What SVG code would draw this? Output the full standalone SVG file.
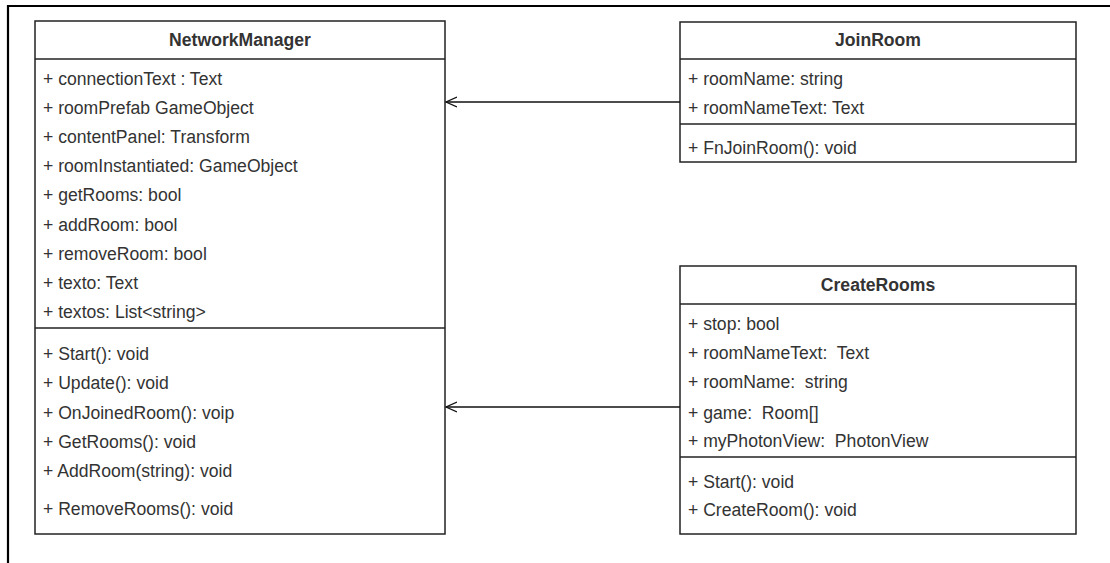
<svg xmlns="http://www.w3.org/2000/svg" width="1110" height="563" viewBox="0 0 1110 563">
<style>
.box{fill:#fff;stroke:#222;stroke-width:1.5}
.sep{stroke:#222;stroke-width:1.5}
.t{font-family:"Liberation Sans",Arial,sans-serif;font-size:17.6px;fill:#333;white-space:pre}
.h{font-family:"Liberation Sans",Arial,sans-serif;font-size:17.6px;font-weight:bold;fill:#333;text-anchor:middle}
.edge{stroke:#111;stroke-width:1.3;fill:none}
</style>
<defs>
<marker id="open" markerWidth="14" markerHeight="12" refX="11" refY="6" orient="auto" markerUnits="userSpaceOnUse">
<path d="M0,1 L11,6 L0,11" fill="none" stroke="#111" stroke-width="1.3"/>
</marker>
</defs>
<rect x="0" y="0" width="1110" height="563" fill="#fff"/>
<path d="M8,563 V6 H1110" fill="none" stroke="#000" stroke-width="2.2"/>
<g id="NetworkManager">
<rect class="box" x="35" y="21" width="410" height="513"/>
<line class="sep" x1="35" y1="59" x2="445" y2="59"/>
<line class="sep" x1="35" y1="328" x2="445" y2="328"/>
<text class="h" x="240" y="46">NetworkManager</text>
<text class="t" x="43" y="85">+ connectionText : Text</text>
<text class="t" x="43" y="114">+ roomPrefab GameObject</text>
<text class="t" x="43" y="143">+ contentPanel: Transform</text>
<text class="t" x="43" y="172">+ roomInstantiated: GameObject</text>
<text class="t" x="43" y="201">+ getRooms: bool</text>
<text class="t" x="43" y="231">+ addRoom: bool</text>
<text class="t" x="43" y="260">+ removeRoom: bool</text>
<text class="t" x="43" y="289">+ texto: Text</text>
<text class="t" x="43" y="318">+ textos: List&lt;string&gt;</text>
<text class="t" x="43" y="360">+ Start(): void</text>
<text class="t" x="43" y="389">+ Update(): void</text>
<text class="t" x="43" y="419">+ OnJoinedRoom(): voip</text>
<text class="t" x="43" y="448">+ GetRooms(): void</text>
<text class="t" x="43" y="477">+ AddRoom(string): void</text>
<text class="t" x="43" y="515">+ RemoveRooms(): void</text>
</g>
<g id="JoinRoom">
<rect class="box" x="680" y="22" width="396" height="140"/>
<line class="sep" x1="680" y1="59" x2="1076" y2="59"/>
<line class="sep" x1="680" y1="124" x2="1076" y2="124"/>
<text class="h" x="878" y="46">JoinRoom</text>
<text class="t" x="688" y="85">+ roomName: string</text>
<text class="t" x="688" y="114">+ roomNameText: Text</text>
<text class="t" x="688" y="154">+ FnJoinRoom(): void</text>
</g>
<g id="CreateRooms">
<rect class="box" x="680" y="266" width="396" height="268"/>
<line class="sep" x1="680" y1="304" x2="1076" y2="304"/>
<line class="sep" x1="680" y1="457" x2="1076" y2="457"/>
<text class="h" x="878" y="291">CreateRooms</text>
<text class="t" x="688" y="330">+ stop: bool</text>
<text class="t" x="688" y="359" xml:space="preserve">+ roomNameText:  Text</text>
<text class="t" x="688" y="388" xml:space="preserve">+ roomName:  string</text>
<text class="t" x="688" y="419" xml:space="preserve">+ game:  Room[]</text>
<text class="t" x="688" y="447" xml:space="preserve">+ myPhotonView:  PhotonView</text>
<text class="t" x="688" y="488">+ Start(): void</text>
<text class="t" x="688" y="516">+ CreateRoom(): void</text>
</g>
<g id="connectors">
<line class="edge" x1="680" y1="102" x2="446" y2="102" marker-end="url(#open)"/>
<line class="edge" x1="680" y1="407" x2="446" y2="407" marker-end="url(#open)"/>
</g>
</svg>
